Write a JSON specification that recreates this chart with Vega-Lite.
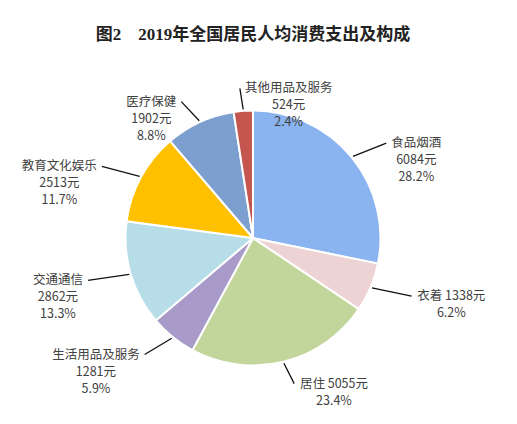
{
  "$schema": "https://vega.github.io/schema/vega-lite/v6.json",
  "description": "2019年全国居民人均消费支出及构成",
  "width": 506,
  "height": 372,
  "autosize": {"type": "none"},
  "padding": {"top": 52, "left": 0, "right": 11, "bottom": 0},
  "background": "white",
  "title": {
    "text": "图2　2019年全国居民人均消费支出及构成",
    "font": "Liberation Serif, Noto Sans CJK SC",
    "fontSize": 17,
    "fontWeight": "bold",
    "color": "#222222",
    "anchor": "middle",
    "offset": 8
  },
  "config": {"view": {"stroke": null}},
  "data": {
    "values": [
      {"order": 1, "category": "食品烟酒", "value": 6084, "pct": 28.2},
      {"order": 2, "category": "衣着", "value": 1338, "pct": 6.2},
      {"order": 3, "category": "居住", "value": 5055, "pct": 23.4},
      {"order": 4, "category": "生活用品及服务", "value": 1281, "pct": 5.9},
      {"order": 5, "category": "交通通信", "value": 2862, "pct": 13.3},
      {"order": 6, "category": "教育文化娱乐", "value": 2513, "pct": 11.7},
      {"order": 7, "category": "医疗保健", "value": 1902, "pct": 8.8},
      {"order": 8, "category": "其他用品及服务", "value": 524, "pct": 2.4}
    ]
  },
  "transform": [
    {"joinaggregate": [{"op": "sum", "field": "value", "as": "total"}]},
    {"window": [{"op": "sum", "field": "value", "as": "cum"}], "sort": [{"field": "order"}], "frame": [null, 0]},
    {"calculate": "2 * PI * (datum.cum - datum.value / 2) / datum.total", "as": "mid"},
    {"calculate": "sin(datum.mid)", "as": "s"},
    {"calculate": "cos(datum.mid)", "as": "c"},
    {"calculate": "datum.s >= -0.2 ? 1 : -1", "as": "side"},
    {"calculate": "datum.s * 129", "as": "x0"},
    {"calculate": "datum.c * 129", "as": "y0"},
    {"calculate": "datum.s * 172", "as": "x1"},
    {"calculate": "datum.c * 150", "as": "y1"},
    {"calculate": "length(datum.category) <= 2", "as": "twoLine"},
    {"calculate": "datum.twoLine ? [datum.category + ' ' + datum.value + '元', format(datum.pct, '.1f') + '%'] : [datum.category, datum.value + '元', format(datum.pct, '.1f') + '%']", "as": "lines"},
    {"calculate": "datum.twoLine ? 12.5 * length(datum.category) + 4 + 7 * length('' + datum.value) + 12.5 : max(12.5 * length(datum.category), 7 * length('' + datum.value) + 12.5)", "as": "w"},
    {"calculate": "datum.x1 + datum.side * (datum.w / 2 + 5)", "as": "tx"}
  ],
  "layer": [
    {
      "mark": {"type": "arc", "outerRadius": 127.5, "stroke": "white", "strokeWidth": 2},
      "encoding": {
        "theta": {"field": "value", "type": "quantitative", "stack": true},
        "order": {"field": "order", "type": "quantitative"},
        "color": {
          "field": "category",
          "type": "nominal",
          "legend": null,
          "scale": {
            "domain": ["食品烟酒", "衣着", "居住", "生活用品及服务", "交通通信", "教育文化娱乐", "医疗保健", "其他用品及服务"],
            "range": ["#8AB4F0", "#EDD3D4", "#C2D69B", "#A89BC9", "#B7DEE8", "#FFC000", "#7D9FD0", "#C4564F"]
          }
        }
      }
    },
    {
      "mark": {"type": "rule", "color": "#111111", "strokeWidth": 1.3},
      "encoding": {
        "x": {"field": "x0", "type": "quantitative", "scale": {"domain": [-253, 253], "nice": false, "zero": false}, "axis": null},
        "y": {"field": "y0", "type": "quantitative", "scale": {"domain": [-186, 186], "nice": false, "zero": false}, "axis": null},
        "x2": {"field": "x1"},
        "y2": {"field": "y1"}
      }
    },
    {
      "mark": {
        "type": "text",
        "font": "Noto Sans CJK SC",
        "fontSize": 12.5,
        "color": "#404040",
        "align": "center",
        "baseline": "middle",
        "lineHeight": 17
      },
      "encoding": {
        "x": {"field": "tx", "type": "quantitative"},
        "y": {"field": "y1", "type": "quantitative"},
        "text": {"field": "lines"}
      }
    }
  ]
}
